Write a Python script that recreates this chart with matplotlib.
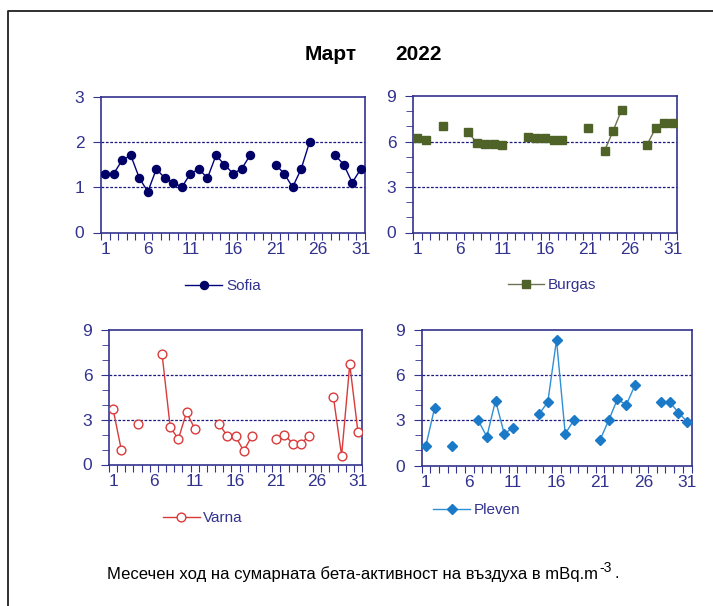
import numpy as np
import matplotlib
matplotlib.use('Agg')
import matplotlib.pyplot as plt
from matplotlib.lines import Line2D

plt.rcParams['font.family'] = ['Liberation Sans', 'DejaVu Sans']

nan = np.nan
days = np.arange(1, 32)

sofia = [1.3, 1.3, 1.6, 1.7, 1.2, 0.9, 1.4, 1.2, 1.1, 1.0,
         1.3, 1.4, 1.2, 1.7, 1.5, 1.3, 1.4, 1.7, nan, nan,
         1.5, 1.3, 1.0, 1.4, 2.0, nan, nan, 1.7, 1.5, 1.1, 1.4]
burgas = [6.2, 6.1, nan, 7.0, nan, nan, 6.6, 5.9, 5.85, 5.85,
          5.8, nan, nan, 6.3, 6.2, 6.2, 6.1, 6.1, nan, nan,
          6.9, nan, 5.4, 6.7, 8.1, nan, nan, 5.8, 6.9, 7.2, 7.2]
varna = [3.7, 1.0, nan, 2.7, nan, nan, 7.4, 2.5, 1.7, 3.5,
         2.4, nan, nan, 2.7, 1.9, 1.9, 0.9, 1.9, nan, nan,
         1.7, 2.0, 1.4, 1.4, 1.9, nan, nan, 4.5, 0.6, 6.7, 2.2]
pleven = [1.3, 3.8, nan, 1.3, nan, nan, 3.0, 1.9, 4.3, 2.1,
          2.5, nan, nan, 3.4, 4.2, 8.3, 2.1, 3.0, nan, nan,
          1.7, 3.0, 4.4, 4.0, 5.3, nan, nan, 4.2, 4.2, 3.5, 2.9]

W, H = 713, 606
fig = plt.figure(figsize=(W / 100, H / 100), dpi=100)

AX_COL = '#32328f'
GRID_COL = '#1a1a80'


def px_axes(left, top, right, bottom):
    return fig.add_axes([left / W, 1 - bottom / H, (right - left) / W, (bottom - top) / H])


def style(ax, ymax, grid, minor):
    ax.set_xlim(0.5, 31.5)
    ax.set_ylim(0, ymax)
    for s in ax.spines.values():
        s.set_color(AX_COL)
        s.set_linewidth(1.2)
    # tick marks between days, labels on every fifth day
    ax.set_xticks(np.arange(0.5, 32, 1))
    ax.set_xticklabels([])
    ax.set_xticks(days[::5], minor=True)
    ax.set_xticklabels([str(d) for d in days[::5]], minor=True)
    ax.tick_params(axis='x', which='major', direction='out', length=5, color=AX_COL)
    ax.tick_params(axis='x', which='minor', length=0, pad=7, labelsize=12.5, labelcolor=AX_COL)
    step = ymax // 3
    ax.set_yticks(np.arange(0, ymax + 1, step))
    if minor:
        ax.set_yticks(np.arange(0, ymax + 1, 1), minor=True)
        ax.tick_params(axis='y', which='minor', direction='out', length=5, color=AX_COL)
    ax.tick_params(axis='y', which='major', direction='out', length=6, pad=6,
                   labelsize=12.5, color=AX_COL, labelcolor=AX_COL)
    for g in grid:
        ax.axhline(g, color=GRID_COL, lw=0.9, ls=(0, (2.2, 1.3)), zorder=1)


def add_legend(ax, handle, name, cx, cy):
    ax.legend([handle], [name], loc='center', bbox_to_anchor=(cx / W, 1 - cy / H),
              bbox_transform=fig.transFigure, frameon=False, fontsize=11,
              handlelength=2.4, handletextpad=0.25, labelcolor=AX_COL)


# Sofia
ax1 = px_axes(101, 96.5, 365, 232.5)
style(ax1, 3, [1, 2], False)
h1, = ax1.plot(days, sofia, color='#000080', lw=1.0, marker='o', ms=5.8,
               mfc='#000066', mec='#000066', zorder=3)
add_legend(ax1, h1, 'Sofia', 223, 286)

# Burgas
ax2 = px_axes(413, 96, 677, 232.5)
style(ax2, 9, [3, 6], True)
h2, = ax2.plot(days, burgas, color='#6b7555', lw=1.0, marker='s', ms=6.3,
               mfc='#4f6228', mec='#4f6228', zorder=3)
add_legend(ax2, h2, 'Burgas', 552, 285)

# Varna
ax3 = px_axes(109, 330, 362, 464.5)
style(ax3, 9, [3, 6], True)
h3, = ax3.plot(days, varna, color='#d93a3a', lw=1.0, marker='o', ms=6.3,
               mfc='white', mec='#d93a3a', mew=1.0, zorder=3)
add_legend(ax3, h3, 'Varna', 203, 518)

# Pleven
ax4 = px_axes(421.5, 329.5, 691.5, 465.5)
style(ax4, 9, [3, 6], True)
h4, = ax4.plot(days, pleven, color='#2f8fd6', lw=1.0, marker='D', ms=5.2,
               mfc='#1a7ac8', mec='#1a7ac8', zorder=3)
add_legend(ax4, h4, 'Pleven', 477, 510)

# titles
fig.text(305 / W, 1 - 55 / H, 'Март', fontsize=15, fontweight='bold', ha='left', va='center')
fig.text(395 / W, 1 - 55 / H, '2022', fontsize=15, fontweight='bold', ha='left', va='center')

# caption with a "-3" superscript placed right after the main text
renderer = fig.canvas.get_renderer()
cap_y = 1 - 574 / H
cap = fig.text(107 / W, cap_y, 'Месечен ход на сумарната бета-активност на въздуха в mBq.m',
               fontsize=12, ha='left', va='center')
x_end = cap.get_window_extent(renderer).x1 / W
sup = fig.text(x_end + 1 / W, cap_y + 6 / H, '-3', fontsize=10, ha='left', va='center')
x_end = sup.get_window_extent(renderer).x1 / W
fig.text(x_end + 3 / W, cap_y, '.', fontsize=12, ha='left', va='center')

# outer frame (cut off on the right and bottom)
fig.add_artist(Line2D([8 / W, 8 / W, 1.0], [0.0, 1 - 11 / H, 1 - 11 / H],
                      transform=fig.transFigure, color='#202020', lw=1.3))

fig.savefig('out.png', dpi=100)
